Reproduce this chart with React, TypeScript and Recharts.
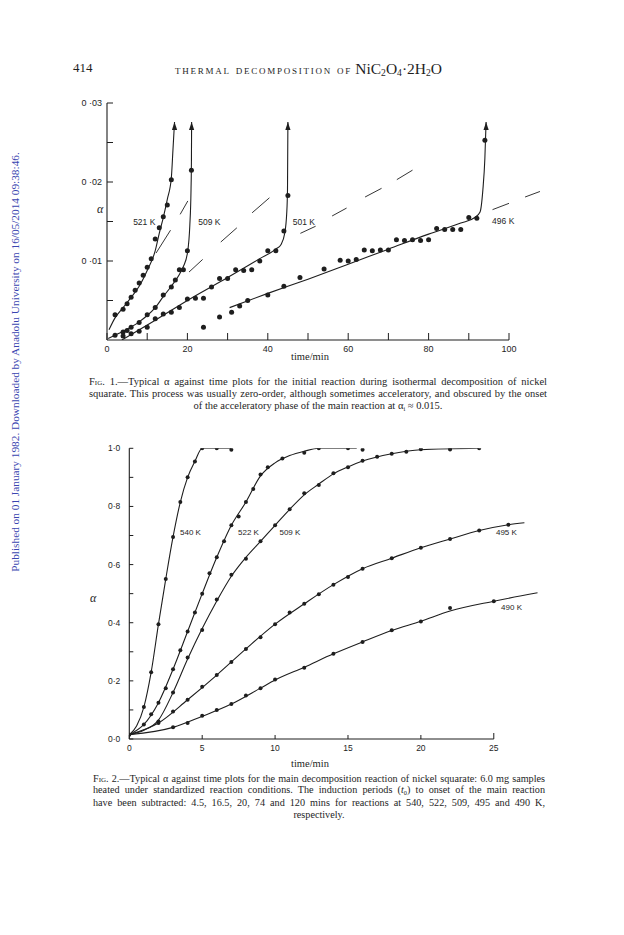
import React from "react";
import { ComposedChart, Line, Scatter, XAxis, YAxis, ReferenceLine } from "recharts";

// ---- Fig. 1 : initial reaction (alpha vs time/min) ----
const T521 = [2, 4, 5, 6, 7, 8, 9, 10, 11, 12, 13, 14, 15, 16];
const A521 = [0.0032, 0.0039, 0.0046, 0.0054, 0.0063, 0.0072, 0.0082, 0.0092, 0.0103, 0.0128, 0.0142, 0.0156, 0.0171, 0.0203];
const T509 = [2, 4, 5, 6, 8, 10, 12, 14, 16, 17, 18, 19, 20, 21];
const A509 = [0.0006, 0.001, 0.0012, 0.0016, 0.0022, 0.0032, 0.0041, 0.0057, 0.0067, 0.0076, 0.0089, 0.0089, 0.0113, 0.0215];
const T501 = [4, 6, 8, 10, 12, 14, 16, 18, 20, 22, 24, 26, 28, 30, 32, 34, 36, 38, 40, 42, 44, 45];
const A501 = [0.0005, 0.0008, 0.0011, 0.0016, 0.0027, 0.0033, 0.0035, 0.0041, 0.0052, 0.0053, 0.0053, 0.0067, 0.0078, 0.0078, 0.0089, 0.0088, 0.0089, 0.01, 0.0113, 0.0113, 0.0138, 0.0183];
const T496 = [24, 28, 31, 33, 35, 40, 44, 48, 54, 58, 60, 62, 64, 66, 68, 70, 72, 74, 76, 78, 80, 82, 84, 86, 88, 90, 92, 94];
const A496 = [0.0016, 0.0029, 0.0035, 0.0043, 0.005, 0.0057, 0.0068, 0.0079, 0.009, 0.0101, 0.01, 0.0102, 0.0114, 0.0113, 0.0114, 0.0114, 0.0127, 0.0126, 0.0127, 0.0126, 0.0127, 0.0141, 0.014, 0.014, 0.014, 0.0155, 0.0154, 0.0253];

// drawn curves, ending in an arrow
const C521T = [0.5, 2, 4, 6, 8, 10, 12, 13, 14, 15, 16, 16.4, 16.8];
const C521A = [0.0013, 0.0028, 0.0041, 0.0054, 0.0068, 0.0088, 0.0113, 0.0135, 0.0155, 0.0178, 0.0205, 0.024, 0.0276];
const C509T = [0.3, 4, 8, 10, 12, 14, 16, 18, 19, 20, 20.6, 20.9, 21.0, 21.05];
const C509A = [0.0002, 0.0011, 0.0023, 0.0031, 0.0041, 0.0055, 0.0068, 0.0083, 0.0093, 0.011, 0.0145, 0.019, 0.0225, 0.0276];
const C501T = [3.7, 12, 20, 30, 38, 42, 43.3, 44.2, 44.7, 44.9, 45.0];
const C501A = [0, 0.0025, 0.005, 0.0079, 0.0103, 0.0115, 0.0121, 0.0135, 0.016, 0.019, 0.0276];
const C496T = [30.5, 40, 50, 60, 70, 80, 88, 91.5, 92.8, 93.5, 94, 94.3];
const C496A = [0.0041, 0.0059, 0.0077, 0.0096, 0.0115, 0.0134, 0.0148, 0.0155, 0.0162, 0.019, 0.023, 0.0276];

// dashed guide lines, one pair of ends per dash
const DASH_T = [[12.2, 15.8], [18.2, 20.1], [20.4, 23.8], [28.3, 32.3], [36.1, 40.4], [48.1, 51.9], [56, 59.6], [64.2, 68.3], [72.1, 76], [95.9, 100], [104, 107.7]];
const DASH_A = [[0.011, 0.0139], [0.0159, 0.0176], [0.0086, 0.0102], [0.0124, 0.0142], [0.0161, 0.018], [0.0135, 0.0144], [0.0157, 0.0167], [0.0181, 0.0192], [0.0203, 0.0215], [0.0165, 0.0173], [0.0181, 0.0188]];

const F1_XTICKS = [0, 10, 20, 30, 40, 50, 60, 70, 80, 90, 100];
const F1_YTICKS = [0.005, 0.01, 0.015, 0.02, 0.025, 0.03];
const F1_LABELS = [
  { t: 6.5, a: 0.015, text: "521 K" },
  { t: 22.7, a: 0.015, text: "509 K" },
  { t: 46.2, a: 0.015, text: "501 K" },
  { t: 95.8, a: 0.0151, text: "496 K" },
];

// ---- Fig. 2 : main reaction ----
const T540 = [0, 1, 1.5, 2, 2.5, 3, 3.5, 4, 4.5, 5, 6, 7];
const A540 = [0.015, 0.11, 0.23, 0.395, 0.55, 0.695, 0.815, 0.9, 0.955, 1.0, 1.0, 0.995];
const T522 = [1, 1.5, 2, 2.5, 3, 3.5, 4, 4.5, 5, 5.5, 6, 6.5, 7, 7.5, 8, 8.5, 9, 9.5, 10.5, 12, 13, 15, 16];
const A522 = [0.05, 0.085, 0.125, 0.175, 0.24, 0.305, 0.37, 0.435, 0.5, 0.57, 0.625, 0.68, 0.735, 0.765, 0.815, 0.86, 0.91, 0.935, 0.965, 0.985, 1.0, 1.0, 0.995];
const T509b = [2, 3, 4, 5, 6, 7, 8, 9, 10, 11, 12, 13, 14, 15, 16, 17, 18, 19, 20, 22, 24];
const A509b = [0.06, 0.16, 0.28, 0.375, 0.48, 0.565, 0.62, 0.68, 0.735, 0.79, 0.845, 0.874, 0.914, 0.935, 0.957, 0.971, 0.981, 0.988, 0.997, 0.996, 1.0];
const T495 = [2, 3, 4, 5, 6, 7, 8, 9, 10, 11, 12, 13, 14, 15, 16, 18, 20, 22, 24, 26];
const A495 = [0.055, 0.095, 0.135, 0.18, 0.22, 0.265, 0.31, 0.35, 0.395, 0.435, 0.465, 0.498, 0.531, 0.557, 0.586, 0.622, 0.658, 0.688, 0.717, 0.737];
const T490 = [3, 4, 5, 6, 7, 8, 9, 10, 12, 14, 16, 18, 20, 22, 25];
const A490 = [0.04, 0.055, 0.08, 0.1, 0.12, 0.15, 0.175, 0.205, 0.245, 0.293, 0.334, 0.374, 0.404, 0.451, 0.474];

const C540T = [0, 0.5, 1, 1.5, 2, 2.5, 3, 3.5, 4, 4.5, 5, 6, 7];
const C540A = [0.015, 0.045, 0.11, 0.23, 0.395, 0.55, 0.695, 0.815, 0.9, 0.955, 1.0, 1.0, 1.0];
const C522T = [0, 1, 2, 3, 4, 5, 6, 7, 8, 9, 10, 11, 12, 13, 15.6];
const C522A = [0.015, 0.05, 0.125, 0.24, 0.37, 0.5, 0.625, 0.735, 0.815, 0.905, 0.95, 0.975, 0.99, 1.0, 1.0];
const C509bT = [0, 1, 2, 3, 4, 5, 6, 7, 8, 9, 10, 11, 12, 13, 14, 15, 16, 18, 20, 24];
const C509bA = [0.015, 0.03, 0.065, 0.16, 0.275, 0.38, 0.475, 0.56, 0.625, 0.68, 0.735, 0.79, 0.84, 0.877, 0.912, 0.936, 0.956, 0.981, 0.995, 1.0];
const C495T = [0, 2, 4, 6, 8, 10, 12, 14, 16, 18, 20, 22, 24, 26, 27.1];
const C495A = [0.015, 0.055, 0.135, 0.22, 0.31, 0.395, 0.465, 0.531, 0.586, 0.622, 0.658, 0.688, 0.717, 0.737, 0.744];
const C490T = [0, 3, 5, 7, 9, 10, 12, 14, 16, 18, 20, 22, 25, 28];
const C490A = [0.015, 0.04, 0.078, 0.12, 0.175, 0.203, 0.247, 0.293, 0.334, 0.373, 0.405, 0.44, 0.474, 0.503];

const F2_XTICKS = [0, 5, 10, 15, 20, 25];
const F2_YTICKS = [0, 0.1, 0.2, 0.3, 0.4, 0.5, 0.6, 0.7, 0.8, 0.9, 1.0];
const F2_LABELS = [
  { t: 3.48, a: 0.712, text: "540 K" },
  { t: 7.46, a: 0.712, text: "522 K" },
  { t: 10.3, a: 0.712, text: "509 K" },
  { t: 25.15, a: 0.712, text: "495 K" },
  { t: 25.5, a: 0.454, text: "490 K" },
];

const INK = "#1e1e1e";
const SANS = "'Liberation Sans', Arial, sans-serif";
const SERIF = "'Liberation Serif', 'Times New Roman', serif";

const zip = (ts: number[], as: number[]) => ts.map((t, i) => ({ t, a: as[i] }));

const Arrow = (props: any) => {
  const { cx, cy, index, points } = props;
  if (points && index === points.length - 1) {
    return <path key={`ar-${index}`} d={`M${cx},${cy} L${cx - 2.6},${cy + 8} L${cx + 2.6},${cy + 8} Z`} fill={INK} />;
  }
  return <g key={`ar-${index}`} />;
};

const Dot = (r: number) => (props: any) => {
  const { cx, cy } = props;
  return <circle cx={cx} cy={cy} r={r} fill={INK} />;
};

const F1XTick = ({ x, y, payload }: any) => (
  <g>
    <line x1={x} y1={y} x2={x} y2={y - 7} stroke={INK} strokeWidth={1} />
    {payload.value % 20 === 0 && (
      <text x={x} y={y + 9} textAnchor="middle" dominantBaseline="central" fontSize={9} fontFamily={SANS} fill={INK}>
        {payload.value}
      </text>
    )}
  </g>
);

const F1YTick = ({ x, y, payload }: any) => {
  const n = Math.round(payload.value * 1000);
  return (
    <g>
      <line x1={x} y1={y} x2={x + 6} y2={y} stroke={INK} strokeWidth={1} />
      {n % 10 === 0 && (
        <text x={x - 5} y={y} textAnchor="end" dominantBaseline="central" fontSize={9} fontFamily={SANS} fill={INK}>
          {`0 ·0${n / 10}`}
        </text>
      )}
    </g>
  );
};

const F2XTick = ({ x, y, payload }: any) => (
  <g>
    <line x1={x} y1={y} x2={x} y2={y - (payload.value === 25 ? 6 : 4)} stroke={INK} strokeWidth={1} />
    <text x={x} y={y + 9} textAnchor="middle" dominantBaseline="central" fontSize={8.5} fontFamily={SANS} fill={INK}>
      {payload.value}
    </text>
  </g>
);

const F2YTick = ({ x, y, payload }: any) => {
  const n = Math.round(payload.value * 10);
  return (
    <g>
      <line x1={x} y1={y} x2={x + 4} y2={y} stroke={INK} strokeWidth={1} />
      {n % 2 === 0 && (
        <text x={x - 9} y={y} textAnchor="end" dominantBaseline="central" fontSize={8.5} fontFamily={SANS} fill={INK}>
          {(n / 10).toFixed(1).replace(".", "·")}
        </text>
      )}
    </g>
  );
};

const curve = (key: string, ts: number[], as: number[], arrow = false) => (
  <Line
    key={key}
    data={zip(ts, as)}
    dataKey="a"
    type="monotone"
    stroke={INK}
    strokeWidth={1.1}
    dot={arrow ? Arrow : false}
    activeDot={false}
    isAnimationActive={false}
  />
);

const dots = (key: string, ts: number[], as: number[], r: number) => (
  <Scatter key={key} data={zip(ts, as)} dataKey="a" shape={Dot(r)} isAnimationActive={false} />
);

const PageText = ({ x, y, children, style }: any) => (
  <div style={{ position: "absolute", left: x, top: y, lineHeight: 1, color: INK, ...style }}>{children}</div>
);

const sub = { fontSize: "0.62em", verticalAlign: "-0.25em" };

export default function App() {
  return (
    <div style={{ position: "absolute", left: 0, top: 0, width: 624, height: 935, background: "#fff", overflow: "hidden", fontFamily: SERIF }}>
      {/* side stamp */}
      <div
        style={{
          position: "absolute",
          left: 15 - 225,
          top: 362 - 7,
          width: 450,
          height: 14,
          lineHeight: "14px",
          fontSize: 11.3,
          color: "#3a45b0",
          textAlign: "center",
          whiteSpace: "nowrap",
          transform: "rotate(-90deg)",
          transformOrigin: "50% 50%",
        }}
      >
        Published on 01 January 1982. Downloaded by Anadolu University on 16/05/2014 09:38:46.
      </div>

      {/* running head */}
      <PageText x={73} y={61} style={{ fontSize: 13 }}>414</PageText>
      <PageText x={175} y={61} style={{ fontSize: 13, whiteSpace: "nowrap" }}>
        <span style={{ fontVariant: "small-caps", letterSpacing: 1.75, fontSize: 13 }}>thermal decomposition of</span>{" "}
        <span style={{ fontSize: 15.5 }}>
          NiC<span style={sub}>2</span>O<span style={sub}>4</span>·2H<span style={sub}>2</span>O
        </span>
      </PageText>

      {/* Fig. 1 */}
      <div style={{ position: "absolute", left: 0, top: 0 }}>
        <ComposedChart width={624} height={380} margin={{ top: 103, right: 74.8, bottom: 10, left: 67 }}>
          <XAxis
            type="number"
            dataKey="t"
            domain={[0, 110]}
            ticks={F1_XTICKS}
            axisLine={false}
            tickLine={false}
            tickSize={0}
            tickMargin={0}
            tick={F1XTick}
            height={30}
            allowDataOverflow
          />
          <YAxis
            type="number"
            dataKey="a"
            domain={[0, 0.03]}
            ticks={F1_YTICKS}
            axisLine={{ stroke: INK, strokeWidth: 1.1 }}
            tickLine={false}
            tickSize={0}
            tickMargin={0}
            tick={F1YTick}
            width={40}
            allowDataOverflow
          />
          <ReferenceLine segment={[{ x: 0, y: 0 }, { x: 100, y: 0 }]} stroke={INK} strokeWidth={1.1} ifOverflow="visible" />
          {DASH_T.map((ts, i) => (
            <Line
              key={`d${i}`}
              data={zip(ts, DASH_A[i])}
              dataKey="a"
              type="linear"
              stroke={INK}
              strokeWidth={0.9}
              dot={false}
              activeDot={false}
              isAnimationActive={false}
            />
          ))}
          {curve("c521", C521T, C521A, true)}
          {curve("c509", C509T, C509A, true)}
          {curve("c501", C501T, C501A, true)}
          {curve("c496", C496T, C496A, true)}
          {dots("p521", T521, A521, 2.5)}
          {dots("p509", T509, A509, 2.5)}
          {dots("p501", T501, A501, 2.5)}
          {dots("p496", T496, A496, 2.5)}
          {F1_LABELS.map((l) => (
            <ReferenceLine
              key={l.text}
              segment={[{ x: l.t, y: l.a }, { x: l.t + 0.01, y: l.a }]}
              stroke="none"
              ifOverflow="visible"
              label={{ value: l.text, position: "insideLeft", fontSize: 8.5, fontFamily: SANS, fill: INK, offset: 0 }}
            />
          ))}
        </ComposedChart>
      </div>
      <PageText x={97} y={203} style={{ fontSize: 12, fontStyle: "italic" }}>α</PageText>
      <PageText x={291} y={352} style={{ fontSize: 10.5 }}>time/min</PageText>

      <div style={{ position: "absolute", left: 89, top: 375.5, width: 458, fontSize: 10.5, lineHeight: "12.2px", color: INK }}>
        <div style={{ textAlign: "justify", textAlignLast: "justify" }}>
          <span style={{ fontVariant: "small-caps" }}>Fig.</span> 1.—Typical α against time plots for the initial reaction during isothermal decomposition of nickel
        </div>
        <div style={{ textAlign: "justify", textAlignLast: "justify" }}>
          squarate. This process was usually zero-order, although sometimes acceleratory, and obscured by the onset
        </div>
        <div style={{ textAlign: "center" }}>
          of the acceleratory phase of the main reaction at α<span style={sub}>i</span> ≈ 0.015.
        </div>
      </div>

      {/* Fig. 2 */}
      <div style={{ position: "absolute", left: 0, top: 400 }}>
        <ComposedChart width={624} height={380} margin={{ top: 48.3, right: 71.9, bottom: 11, left: 89.3 }}>
          <XAxis
            type="number"
            dataKey="t"
            domain={[0, 29]}
            ticks={F2_XTICKS}
            axisLine={false}
            tickLine={false}
            tickSize={0}
            tickMargin={0}
            tick={F2XTick}
            height={30}
            allowDataOverflow
          />
          <YAxis
            type="number"
            dataKey="a"
            domain={[0, 1]}
            ticks={F2_YTICKS}
            axisLine={{ stroke: INK, strokeWidth: 1.1 }}
            tickLine={false}
            tickSize={0}
            tickMargin={0}
            tick={F2YTick}
            width={40}
            allowDataOverflow
          />
          <ReferenceLine segment={[{ x: 0, y: 0 }, { x: 25, y: 0 }]} stroke={INK} strokeWidth={1.1} ifOverflow="visible" />
          {curve("k540", C540T, C540A)}
          {curve("k522", C522T, C522A)}
          {curve("k509", C509bT, C509bA)}
          {curve("k495", C495T, C495A)}
          {curve("k490", C490T, C490A)}
          {dots("q540", T540, A540, 2)}
          {dots("q522", T522, A522, 2)}
          {dots("q509", T509b, A509b, 2)}
          {dots("q495", T495, A495, 2)}
          {dots("q490", T490, A490, 2)}
          {F2_LABELS.map((l) => (
            <ReferenceLine
              key={l.text}
              segment={[{ x: l.t, y: l.a }, { x: l.t + 0.01, y: l.a }]}
              stroke="none"
              ifOverflow="visible"
              label={{ value: l.text, position: "insideLeft", fontSize: 8, fontFamily: SANS, fill: INK, offset: 0 }}
            />
          ))}
        </ComposedChart>
      </div>
      <PageText x={90} y={592} style={{ fontSize: 12, fontStyle: "italic" }}>α</PageText>
      <PageText x={291} y={759} style={{ fontSize: 10.5 }}>time/min</PageText>

      <div style={{ position: "absolute", left: 93, top: 772.5, width: 452, fontSize: 10.2, lineHeight: "11.2px", color: INK }}>
        <div style={{ textAlign: "justify", textAlignLast: "justify" }}>
          <span style={{ fontVariant: "small-caps" }}>Fig.</span> 2.—Typical α against time plots for the main decomposition reaction of nickel squarate: 6.0 mg samples
        </div>
        <div style={{ textAlign: "justify", textAlignLast: "justify" }}>
          heated under standardized reaction conditions. The induction periods (<i>t</i><span style={sub}>0</span>) to onset of the main reaction
        </div>
        <div style={{ textAlign: "justify", textAlignLast: "justify" }}>
          have been subtracted: 4.5, 16.5, 20, 74 and 120 mins for reactions at 540, 522, 509, 495 and 490 K,
        </div>
        <div style={{ textAlign: "center" }}>respectively.</div>
      </div>
    </div>
  );
}
